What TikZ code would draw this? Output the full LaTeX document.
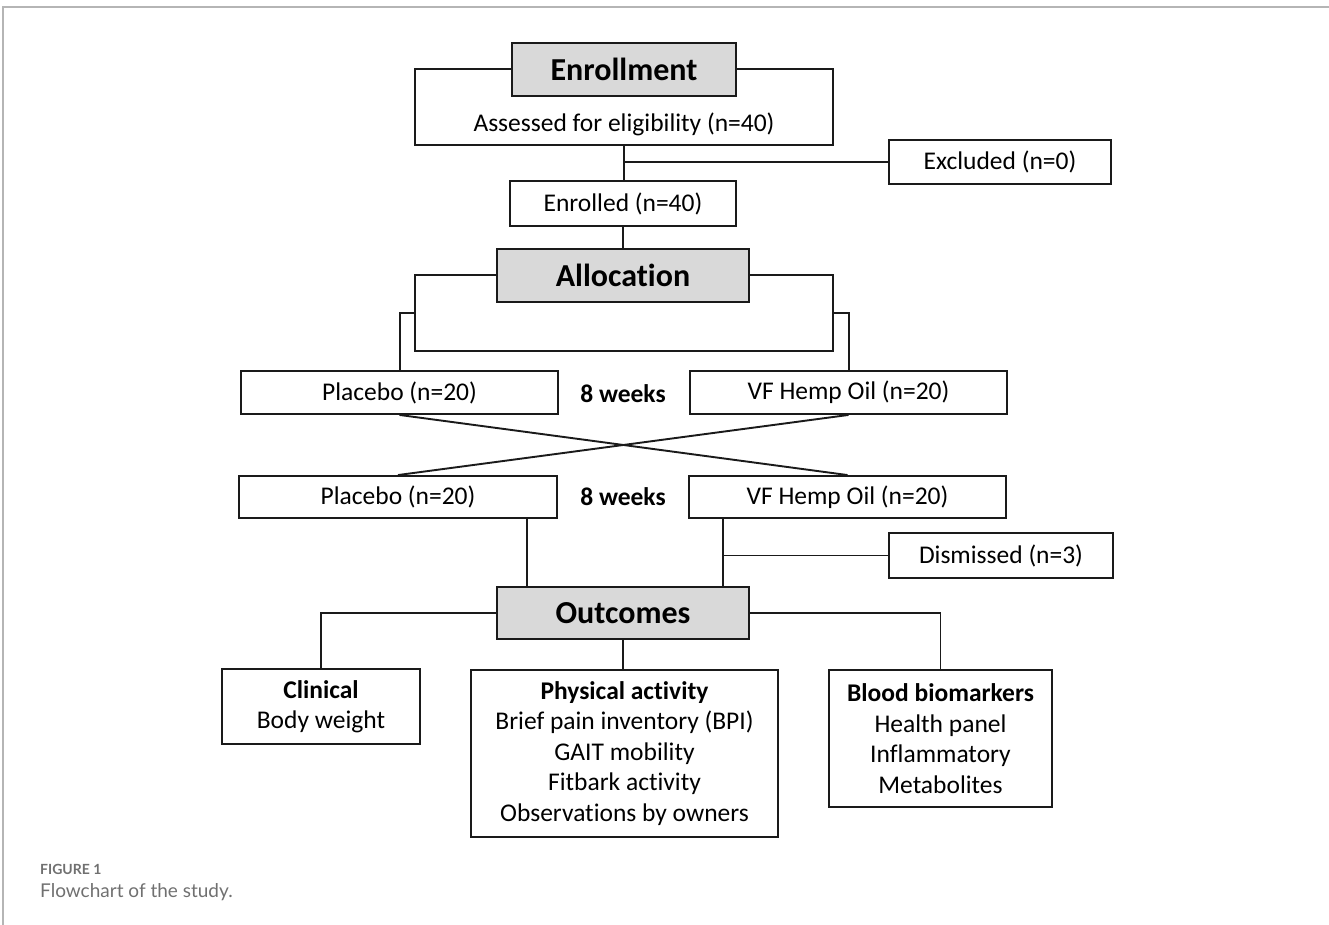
\documentclass[tikz,border=0pt]{standalone}
\usepackage{fontspec}
\setmainfont{Carlito}[Ligatures=NoCommon]
\newfontfamily\capfont{Lato}
\usetikzlibrary{calc}
\definecolor{hdrgray}{HTML}{D9D9D9}
\definecolor{framegray}{HTML}{B5B5B5}
\definecolor{capgray}{HTML}{707070}
\definecolor{ink}{HTML}{1A1A1A}
\begin{document}
\begin{tikzpicture}[x=1pt,y=-1pt,
  box/.style={draw=ink, line width=1.9pt, inner sep=0pt, align=center,
    font=\fontsize{25.5}{30.5}\selectfont},
  hdr/.style={box, fill=hdrgray, font=\fontsize{32}{36}\selectfont\bfseries},
  conn/.style={draw=ink, line width=1.9pt},
  lbl/.style={inner sep=0pt, font=\fontsize{25.5}{30}\selectfont},
  wk/.style={inner sep=0pt, font=\fontsize{25.5}{30}\selectfont\bfseries}]
\useasboundingbox (0,0) rectangle (1329,925);
% frame
\draw[framegray, line width=2pt] (3,925) -- (3,7) -- (1329,7);
% enrollment
\node[box, minimum width=418, minimum height=76] (assessbox) at (624,107) {};
\node[lbl] (assesstext) at (624,124) {Assessed for eligibility (n=40)};
\node[hdr, minimum width=224, minimum height=53] (enrollhdr) at (624,69.5) {Enrollment};
\node[box, minimum width=222, minimum height=44] (excluded) at (1000,162) {\raisebox{-1.5pt}{Excluded (n=0)}};
\node[box, minimum width=226, minimum height=45] (enrolled) at (623,203.5) {\raisebox{-1.5pt}{Enrolled (n=40)}};
% allocation
\node[box, minimum width=418, minimum height=76] (allocbox) at (624,313) {};
\node[hdr, minimum width=252, minimum height=53] (allochdr) at (623,275.5) {Allocation};
% periods
\node[box, minimum width=317, minimum height=43] (placebo1) at (399.5,392.5) {\raisebox{-1.5pt}{Placebo (n=20)}};
\node[wk] (weeks1) at (623,394) {8 weeks};
\node[box, minimum width=317, minimum height=43] (vf1) at (848.5,392.5) {\raisebox{-1.5pt}{VF Hemp Oil (n=20)}};
\node[box, minimum width=318, minimum height=42] (placebo2) at (398,497) {\raisebox{-1.5pt}{Placebo (n=20)}};
\node[wk] (weeks2) at (623,497) {8 weeks};
\node[box, minimum width=317, minimum height=42] (vf2) at (847.5,497) {\raisebox{-1.5pt}{VF Hemp Oil (n=20)}};
\node[box, minimum width=224, minimum height=45] (dismissed) at (1001,555.5) {\raisebox{-1.5pt}{Dismissed (n=3)}};
% outcomes
\node[hdr, minimum width=252, minimum height=52] (outcomes) at (623,613) {Outcomes};
\node[box, minimum width=198, minimum height=75] (clinical) at (321,706.5) {\textbf{Clinical}\\Body weight};
\node[box, minimum width=307, minimum height=167] (physical) at (624.5,753.5) {\textbf{Physical activity}\\Brief pain inventory (BPI)\\GAIT mobility\\Fitbark activity\\Observations by owners};
\node[box, minimum width=223, minimum height=137] (blood) at (940.5,738.5) {\textbf{Blood biomarkers}\\Health panel\\Inflammatory\\Metabolites};
% connectors
\coordinate (exbr) at (624,162);
\draw[conn] (assessbox.south) -- (assessbox.south |- enrolled.north);
\draw[conn] (exbr) -- (excluded.west);
\draw[conn] (enrolled.south) -- (enrolled.south |- allochdr.north);
\coordinate (lx) at (400,0);
\coordinate (rx) at (849,0);
\draw[conn] (allocbox.west) -- (allocbox.west -| lx) -- (lx |- placebo1.north);
\draw[conn] (allocbox.east) -- (allocbox.east -| rx) -- (rx |- vf1.north);
\draw[conn] (placebo1.south) -- (vf2.north);
\draw[conn] (vf1.south) -- (placebo2.north);
\coordinate (p2) at (527,0);
\coordinate (v2) at (723,0);
\draw[conn] (p2 |- placebo2.south) -- (p2 |- outcomes.north);
\draw[conn] (v2 |- vf2.south) -- (v2 |- outcomes.north);
\draw[conn] (dismissed.west) -- (dismissed.west -| v2);
\draw[conn] (outcomes.west) -| (clinical.north);
\draw[conn] (outcomes.east) -| (blood.north);
\draw[conn] (outcomes.south) -- (outcomes.south |- physical.north);
% caption
\node[anchor=west, inner sep=0pt, text=capgray, font=\capfont\fontsize{14}{16}\selectfont\bfseries] (figlabel) at (40,869) {FIGURE 1};
\node[anchor=west, inner sep=0pt, text=capgray, font=\capfont\fontsize{19}{22}\selectfont] (figcap) at (40,892) {Flowchart of the study.};
\end{tikzpicture}
\end{document}
